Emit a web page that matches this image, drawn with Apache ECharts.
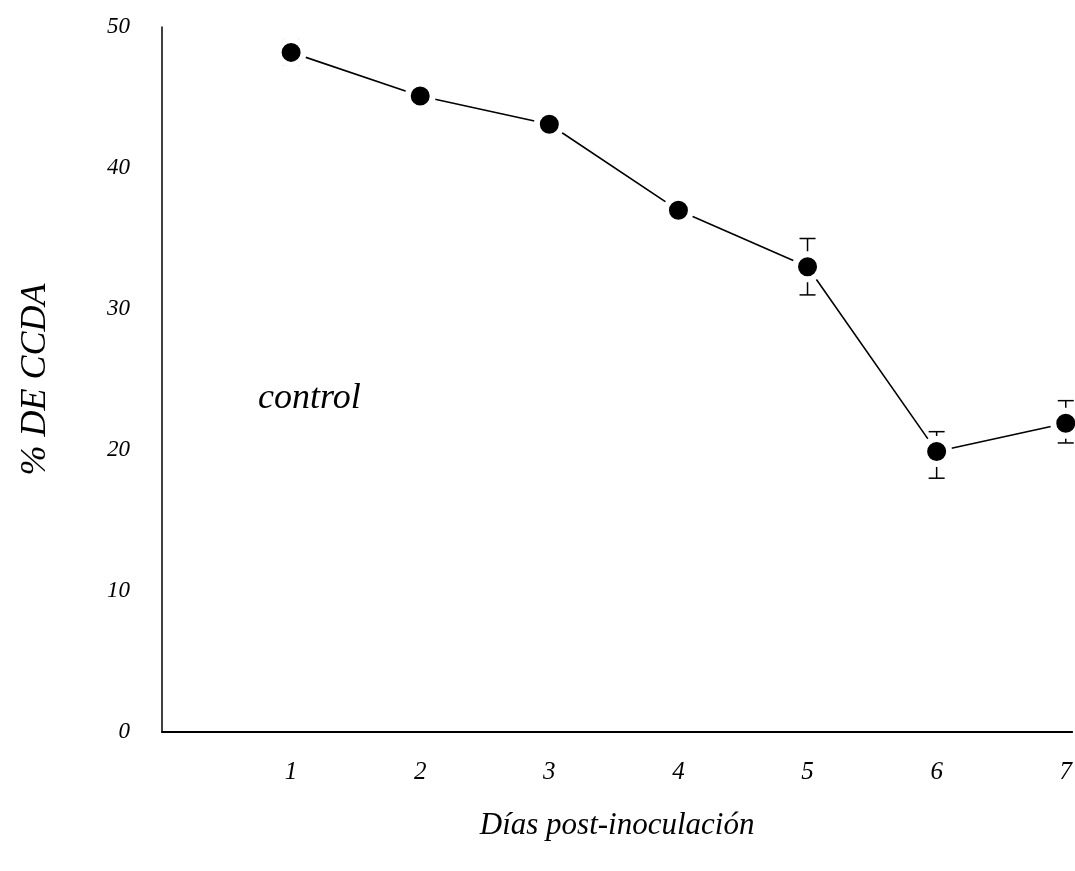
<!DOCTYPE html>
<html>
<head>
<meta charset="utf-8">
<script src="https://cdn.jsdelivr.net/npm/echarts@6/dist/echarts.min.js"></script>
<style>
  html, body { margin: 0; padding: 0; background: #fff; }
  #chart { width: 1075px; height: 871px; }
</style>
</head>
<body>
<div id="chart"></div>
<script>
// días post-inoculación
const days = [1, 2, 3, 4, 5, 6, 7];
// % de CCDA (control)
const ccda = [48.2, 45.1, 43.1, 37.0, 33.0, 19.9, 21.9];
const errLow = [47.3, 44.5, 42.5, 36.4, 31.0, 18.0, 20.5];
const errHigh = [49.1, 45.7, 43.7, 37.6, 35.0, 21.3, 23.5];
const yTicks = [0, 10, 20, 30, 40, 50];

const font = '"Liberation Serif", "DejaVu Serif", serif';

const chart = echarts.init(document.getElementById('chart'));

chart.setOption({
  backgroundColor: '#fff',
  animation: false,
  grid: { left: 162, right: 0, top: 27, bottom: 139 },
  xAxis: {
    type: 'value',
    min: 0,
    max: 7.05,
    interval: 1,
    name: 'Días post-inoculación',
    nameLocation: 'middle',
    nameGap: 78,
    nameTextStyle: { fontFamily: font, fontStyle: 'italic', fontSize: 31, color: '#000' },
    axisLine: { lineStyle: { color: '#000', width: 2 } },
    axisTick: { show: false },
    splitLine: { show: false },
    axisLabel: {
      margin: 28,
      fontFamily: font, fontStyle: 'italic', fontSize: 25, color: '#000',
      showMaxLabel: false,
      formatter: v => (days.indexOf(v) >= 0 ? String(v) : '')
    }
  },
  yAxis: {
    type: 'value',
    min: yTicks[0],
    max: yTicks[yTicks.length - 1],
    interval: 10,
    name: '% DE CCDA',
    nameLocation: 'middle',
    nameRotate: 90,
    nameGap: 108,
    nameTextStyle: { fontFamily: font, fontStyle: 'italic', fontSize: 36, color: '#000' },
    axisLine: { lineStyle: { color: '#000', width: 1.5 } },
    axisTick: { show: false },
    splitLine: { show: false },
    axisLabel: {
      margin: 32,
      fontFamily: font, fontStyle: 'italic', fontSize: 23, color: '#000'
    }
  },
  graphic: [{
    type: 'text',
    left: 258,
    top: 381,
    style: { text: 'control', fontFamily: font, fontStyle: 'italic', fontSize: 36, fill: '#000' }
  }],
  series: [
    {
      type: 'custom',
      z: 1,
      data: days.map((d, i) => [d, errLow[i], errHigh[i]]),
      renderItem: (params, api) => {
        const lo = api.coord([api.value(0), api.value(1)]);
        const hi = api.coord([api.value(0), api.value(2)]);
        const w = 8;
        const st = { stroke: '#000', lineWidth: 1.5 };
        return {
          type: 'group',
          children: [
            { type: 'line', shape: { x1: lo[0], y1: lo[1], x2: hi[0], y2: hi[1] }, style: st },
            { type: 'line', shape: { x1: hi[0] - w, y1: hi[1], x2: hi[0] + w, y2: hi[1] }, style: st },
            { type: 'line', shape: { x1: lo[0] - w, y1: lo[1], x2: lo[0] + w, y2: lo[1] }, style: st }
          ]
        };
      }
    },
    {
      type: 'line',
      z: 3,
      data: days.map((d, i) => [d, ccda[i]]),
      symbol: 'circle',
      symbolSize: 25,
      lineStyle: { color: '#000', width: 1.6 },
      itemStyle: { color: '#000', borderColor: '#fff', borderWidth: 6 }
    }
  ]
});
</script>
</body>
</html>
